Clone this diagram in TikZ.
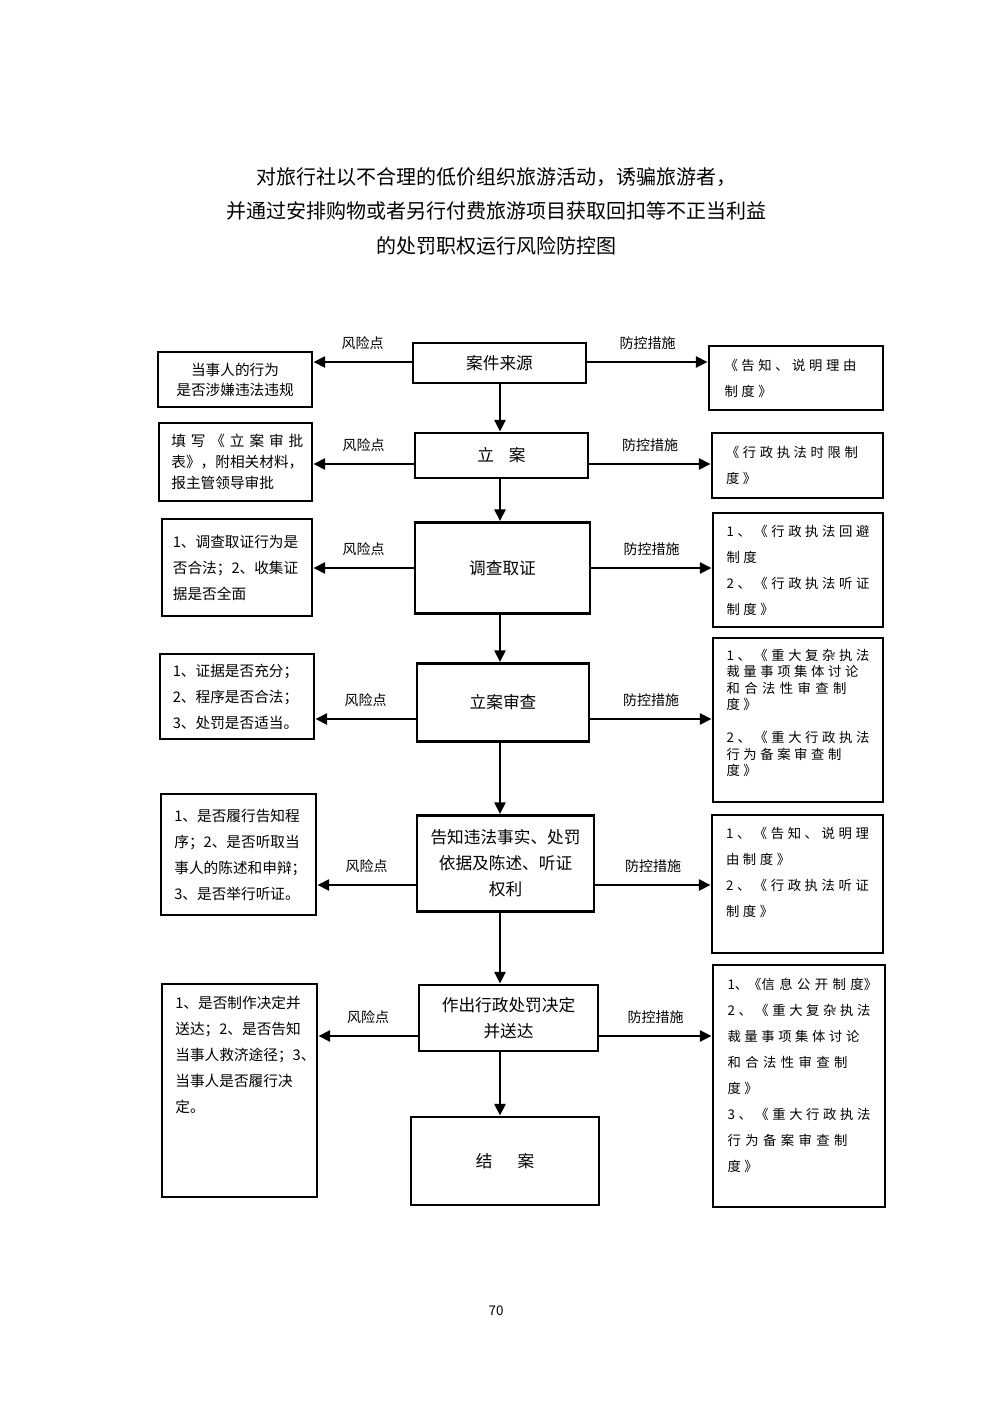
\documentclass[tikz,border=0pt]{standalone}
\usepackage{fontspec}
\newfontfamily\cjk{Noto Sans CJK SC}
\newfontfamily\cjksp[LetterSpace=27]{Noto Sans CJK SC}
\usetikzlibrary{arrows.meta,positioning}
\newcommand{\jline}[1]{\makebox[\linewidth][s]{#1}}

\begin{document}
\begin{tikzpicture}[x=0.6pt,y=-0.6pt,
  wh/.style 2 args={minimum width=#1*0.6pt,minimum height=#2*0.6pt},
  flow/.style={rectangle,draw,line width=1.7pt,inner sep=0pt,align=center,
    font={\cjk\fontsize{10}{15.6}\selectfont}},
  risk/.style={rectangle,draw,line width=1.7pt,inner sep=0pt,text width=77pt,
    align=left,font={\cjk\fontsize{8.8}{15.6}\selectfont}},
  ctrl/.style={rectangle,draw,line width=1.7pt,inner sep=0pt,text width=85.8pt,
    align=left,font={\cjksp\fontsize{8}{15.6}\selectfont}},
  lbl/.style={midway,above=3pt,font={\cjk\fontsize{8.4}{10}\selectfont}},
  arr/.style={line width=1.7pt,-{Triangle[length=7pt,width=6.5pt]}}
]
\fill[white] (0,0) rectangle (992,1403);
\useasboundingbox (0,0) rectangle (992,1403);

% 标题
\node[align=center,font={\cjk\fontsize{12}{20.7}\selectfont}] (title) at (496,211)
  {对旅行社以不合理的低价组织旅游活动，诱骗旅游者，\\
   并通过安排购物或者另行付费旅游项目获取回扣等不正当利益\\
   的处罚职权运行风险防控图};

% 流程
\node[flow,wh={173}{40}] (c1) at (499.5,363)   {案件来源};
\node[flow,wh={173}{45}] (c2) at (501.5,455.5) {立\hspace{0.9em}案};
\node[flow,wh={175}{91}] (c3) at (502.5,568)   {调查取证};
\node[flow,wh={172}{78}] (c4) at (503,702.5)   {立案审查};
\node[flow,wh={177}{96}] (c5) at (505.5,863.5) {告知违法事实、处罚\\依据及陈述、听证\\权利};
\node[flow,wh={179}{66}] (c6) at (508.5,1018)  {作出行政处罚决定\\并送达};
\node[flow,wh={188}{88}] (c7) at (505,1161)    {结\hspace{1.5em}案};

% 风险点
\node[risk,wh={154}{55},align=center,font={\cjk\fontsize{8.8}{12}\selectfont}] (l1) at (235,379.5)
  {当事人的行为\\是否涉嫌违法违规};
\node[risk,wh={153}{78},font={\cjk\fontsize{8.8}{12.6}\selectfont}] (l2) at (235.5,462)
  {\jline{填 写 《 立 案 审 批}\\表》，附相关材料，\\报主管领导审批};
\node[risk,wh={150}{97}] (l3) at (237,567.5)
  {1、调查取证行为是\\否合法；2、收集证\\据是否全面};
\node[risk,wh={154}{85}] (l4) at (237,696.5)
  {1、证据是否充分；\\2、程序是否合法；\\3、处罚是否适当。};
\node[risk,wh={155}{121}] (l5) at (238.5,854.5)
  {1、是否履行告知程\\序；2、是否听取当\\事人的陈述和申辩；\\3、是否举行听证。};
\node[risk,wh={155}{213}] (l6) at (239.5,1090.5) {};
\node[risk,draw=none,anchor=north] (l6t) at ([yshift=-7.4pt]l6.north)
  {1、是否制作决定并\\送达；2、是否告知\\当事人救济途径；3、\\当事人是否履行决\\定。};

% 防控措施
\node[ctrl,wh={174}{64}] (r1) at (796,378)
  {《告知、说明理由\\制度》};
\node[ctrl,wh={171}{65}] (r2) at (797.5,465.5)
  {《行政执法时限制\\度》};
\node[ctrl,wh={170}{114}] (r3) at (798,570)
  {1、《行政执法回避\\制度\\2、《行政执法听证\\制度》};
\node[ctrl,wh={170}{164}] (r4) at (798,720) {};
\node[ctrl,draw=none,anchor=north,font={\cjksp\fontsize{8}{9.9}\selectfont}] (r4t)
  at ([yshift=-6.5pt]r4.north)
  {1、《重大复杂执法\\裁量事项集体讨论\\\jline{和 合 法 性 审 查 制}\\度》\\[9.9pt]
   2、《重大行政执法\\行为备案审查制\\度》};
\node[ctrl,wh={171}{138}] (r5) at (797.5,884) {};
\node[ctrl,draw=none,anchor=north] (r5t) at ([yshift=-7.1pt]r5.north)
  {1、《告知、说明理\\由制度》\\2、《行政执法听证\\制度》};
\node[ctrl,wh={172}{242}] (r6) at (799,1086) {};
\node[ctrl,draw=none,anchor=north] (r6t) at ([yshift=-7.7pt]r6.north)
  {\jline{\cjk 1、《信 息 公 开 制 度》}\\2、《重大复杂执法\\裁量事项集体讨论\\\jline{和 合 法 性 审 查 制}\\度》\\
   3、《重大行政执法\\\jline{行 为 备 案 审 查 制}\\度》};

% 页码
\node[font={\cjk\fontsize{8}{10}\selectfont}] (page) at (496,1311) {70};

% 连线
\coordinate (axis) at (500,0);
\coordinate (y1) at (0,362);
\coordinate (y2) at (0,464);
\coordinate (y3) at (0,568);
\coordinate (y4) at (0,719);
\coordinate (y5) at (0,885);
\coordinate (y6) at (0,1036);

\draw[arr] (c1.south -| axis) -- (c2.north -| axis);
\draw[arr] (c2.south -| axis) -- (c3.north -| axis);
\draw[arr] (c3.south -| axis) -- (c4.north -| axis);
\draw[arr] (c4.south -| axis) -- (c5.north -| axis);
\draw[arr] (c5.south -| axis) -- (c6.north -| axis);
\draw[arr] (c6.south -| axis) -- (c7.north -| axis);

\draw[arr] (c1.west |- y1) -- node[lbl] (k1) {风险点} (l1.east |- y1);
\draw[arr] (c2.west |- y2) -- node[lbl] (k2) {风险点} (l2.east |- y2);
\draw[arr] (c3.west |- y3) -- node[lbl] (k3) {风险点} (l3.east |- y3);
\draw[arr] (c4.west |- y4) -- node[lbl] (k4) {风险点} (l4.east |- y4);
\draw[arr] (c5.west |- y5) -- node[lbl] (k5) {风险点} (l5.east |- y5);
\draw[arr] (c6.west |- y6) -- node[lbl] (k6) {风险点} (l6.east |- y6);

\draw[arr] (c1.east |- y1) -- node[lbl] (m1) {防控措施} (r1.west |- y1);
\draw[arr] (c2.east |- y2) -- node[lbl] (m2) {防控措施} (r2.west |- y2);
\draw[arr] (c3.east |- y3) -- node[lbl] (m3) {防控措施} (r3.west |- y3);
\draw[arr] (c4.east |- y4) -- node[lbl] (m4) {防控措施} (r4.west |- y4);
\draw[arr] (c5.east |- y5) -- node[lbl] (m5) {防控措施} (r5.west |- y5);
\draw[arr] (c6.east |- y6) -- node[lbl] (m6) {防控措施} (r6.west |- y6);
\end{tikzpicture}
\end{document}
